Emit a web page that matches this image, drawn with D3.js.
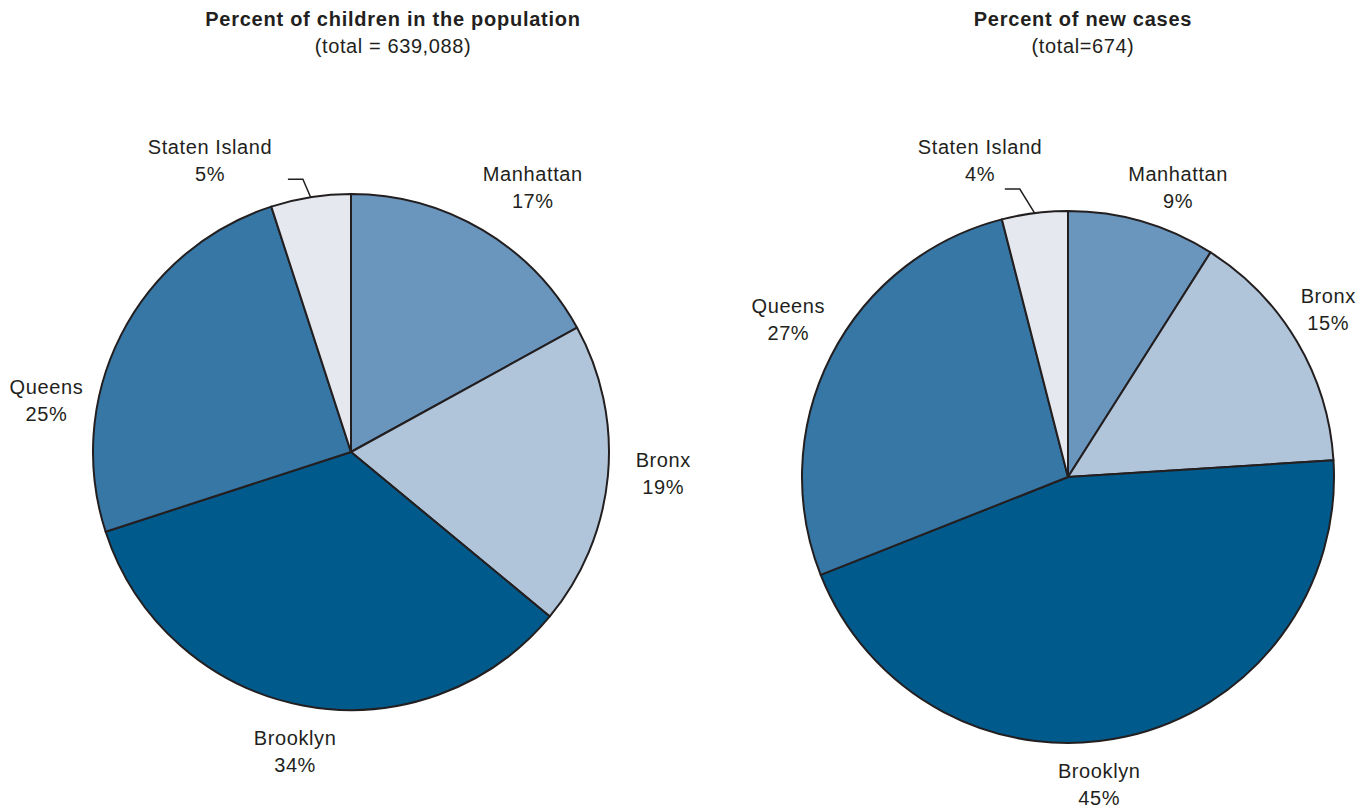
<!DOCTYPE html>
<html>
<head>
<meta charset="utf-8">
<script src="https://cdn.jsdelivr.net/npm/d3@7"></script>
<style>
  html, body { margin: 0; padding: 0; background: #ffffff; }
  svg { display: block; }
  text { font-family: "Liberation Sans", Arial, Helvetica, sans-serif; fill: #231f20; }
</style>
</head>
<body>
<svg id="chart" width="1369" height="812"></svg>
<script>
// Boroughs, in clockwise order starting at 12 o'clock
const boroughs = ["Manhattan", "Bronx", "Brooklyn", "Queens", "Staten Island"];

// Percent of children in the population (total = 639,088)
const populationPct = [17, 19, 34, 25, 5];

// Percent of new cases (total = 674)
const newCasesPct = [9, 15, 45, 27, 4];

const titles = ["Percent of children in the population", "Percent of new cases"];
const subtitles = ["(total = 639,088)", "(total=674)"];

const colors = d3.scaleOrdinal()
  .domain(boroughs)
  .range(["#6a95bd", "#b1c5da", "#005a8b", "#3777a5", "#e5e8ee"]);

const svg = d3.select("#chart");
const ink = "#231f20";

// Layout for each pie: centre, radius, title centre, and label placement
// (label angle in degrees clockwise from north, distance from the centre).
const layouts = [
  {
    cx: 351, cy: 452, r: 258, titleX: 393,
    labels: [
      { a: 34.5, d: 321 }, { a: 93.9, d: 313 }, { a: 190.6, d: 304 },
      { a: 279.7, d: 309 }, { a: 334.2, d: 324 }
    ],
    leader: { elbowA: 350, elbowD: 277, tail: 15 }
  },
  {
    cx: 1068, cy: 477, r: 266, titleX: 1083,
    labels: [
      { a: 20.8, d: 310 }, { a: 57.1, d: 310 }, { a: 174.2, d: 309 },
      { a: 299.4, d: 321 }, { a: 344.5, d: 329 }
    ],
    leader: { elbowA: 350.5, elbowD: 292, tail: 15 }
  }
];

const datasets = [populationPct, newCasesPct];

const polar = (deg, dist) => {
  const t = deg * Math.PI / 180;
  return [Math.sin(t) * dist, -Math.cos(t) * dist];
};

const pie = d3.pie().sort(null).value(d => d.value);

datasets.forEach((values, i) => {
  const L = layouts[i];
  const rows = boroughs.map((name, j) => ({ name, value: values[j] }));
  const arcs = pie(rows);
  const arc = d3.arc().innerRadius(0).outerRadius(L.r);

  // Title block
  svg.append("text")
    .attr("x", L.titleX).attr("y", 26)
    .attr("text-anchor", "middle")
    .style("font-size", "20px").style("font-weight", "bold")
    .style("letter-spacing", "0.75px")
    .text(titles[i]);
  svg.append("text")
    .attr("x", L.titleX).attr("y", 53)
    .attr("text-anchor", "middle")
    .style("font-size", "20px")
    .style("letter-spacing", "0.6px")
    .text(subtitles[i]);

  const g = svg.append("g").attr("transform", `translate(${L.cx},${L.cy})`);

  g.selectAll("path.slice")
    .data(arcs)
    .join("path")
    .attr("class", "slice")
    .attr("d", arc)
    .attr("fill", d => colors(d.data.name))
    .attr("stroke", ink)
    .attr("stroke-width", 2)
    .attr("stroke-linejoin", "round");

  // Labels: borough name and percentage on two lines
  const lab = g.selectAll("g.label")
    .data(arcs)
    .join("g")
    .attr("class", "label")
    .attr("transform", (d, j) => {
      const [x, y] = polar(L.labels[j].a, L.labels[j].d);
      return `translate(${x},${y})`;
    });
  lab.append("text")
    .attr("text-anchor", "middle")
    .attr("y", -6)
    .style("font-size", "20px")
    .style("letter-spacing", "0.6px")
    .text(d => d.data.name);
  lab.append("text")
    .attr("text-anchor", "middle")
    .attr("y", 21)
    .style("font-size", "20px")
    .style("letter-spacing", "0.6px")
    .text(d => d.data.value + "%");

  // Elbow leader line for the smallest slice (Staten Island)
  const si = arcs[4];
  const mid = (si.startAngle + si.endAngle) / 2 * 180 / Math.PI;
  const p0 = polar(mid, L.r);
  const p1 = polar(L.leader.elbowA, L.leader.elbowD);
  const p2 = [p1[0] - L.leader.tail, p1[1]];
  g.append("path")
    .attr("d", d3.line()([p0, p1, p2]))
    .attr("fill", "none")
    .attr("stroke", ink)
    .attr("stroke-width", 1.5);
});
</script>
</body>
</html>
